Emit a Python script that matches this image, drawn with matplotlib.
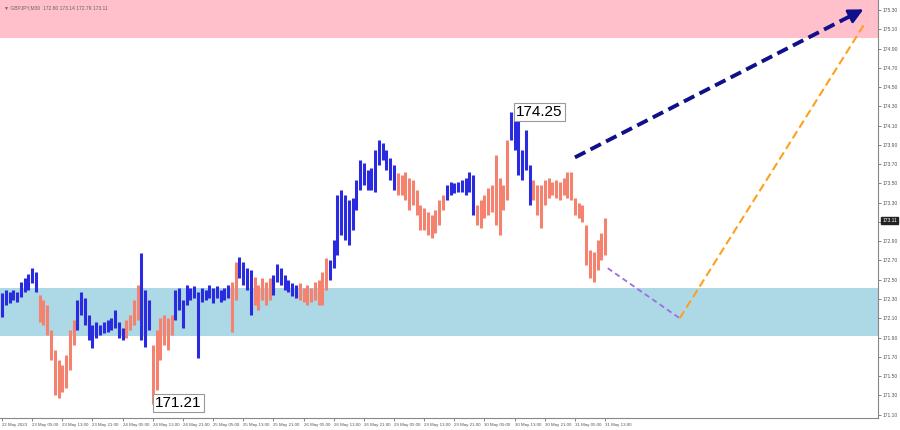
import matplotlib.pyplot as plt

plt.rcParams['font.family'] = ['Liberation Sans', 'DejaVu Sans']

# GBPJPY bars (one bar per hour of chart space), highs and lows
highs = [172.36, 172.39, 172.37, 172.39, 172.37, 172.48, 172.52, 172.56, 172.62, 172.58,
         172.34, 172.29, 172.24, 171.98, 171.77, 171.67, 171.61, 171.72, 171.98, 172.08,
         172.29, 172.37, 172.31, 172.13, 172.03, 172.06, 172.03, 172.06, 172.08, 172.10,
         172.19, 172.06, 172.00, 172.08, 172.13, 172.29, 172.45, 172.78, 172.39, 172.29,
         171.82, 171.98, 172.10, 172.13, 172.10, 172.13, 172.39, 172.41, 172.29, 172.45,
         172.41, 172.44, 172.37, 172.41, 172.39, 172.45, 172.41, 172.44, 172.39, 172.41,
         172.45, 172.48, 172.68, 172.74, 172.68, 172.62, 172.60, 172.53, 172.45, 172.52,
         172.48, 172.52, 172.55, 172.66, 172.62, 172.55, 172.50, 172.47, 172.45, 172.47,
         172.41, 172.45, 172.41, 172.48, 172.50, 172.58, 172.73, 172.70, 172.91, 173.38,
         173.43, 173.38, 173.33, 173.35, 173.54, 173.74, 173.71, 173.64, 173.66, 173.85,
         173.95, 173.92, 173.85, 173.76, 173.69, 173.61, 173.59, 173.62, 173.56, 173.54,
         173.43, 173.28, 173.25, 173.20, 173.17, 173.22, 173.33, 173.38, 173.48, 173.51,
         173.50, 173.51, 173.54, 173.56, 173.62, 173.59, 173.28, 173.33, 173.38, 173.45,
         173.48, 173.80, 173.56, 173.48, 173.95, 174.24, 174.25, 174.16, 173.85, 174.05,
         173.69, 173.54, 173.48, 173.48, 173.54, 173.56, 173.51, 173.54, 173.51, 173.56,
         173.62, 173.62, 173.35, 173.30, 173.28, 173.07, 172.81, 172.79, 172.91, 172.99,
         173.14]
lows = [172.11, 172.24, 172.26, 172.29, 172.27, 172.32, 172.37, 172.39, 172.47, 172.37,
        172.06, 172.03, 171.93, 171.67, 171.30, 171.27, 171.33, 171.38, 171.56, 171.82,
        171.98, 172.13, 172.03, 171.87, 171.79, 171.90, 171.93, 171.95, 171.96, 171.98,
        172.00, 171.90, 171.87, 171.90, 171.98, 172.03, 172.08, 171.87, 171.80, 171.98,
        171.21, 171.36, 171.67, 171.82, 171.77, 171.93, 172.08, 172.19, 172.00, 172.24,
        172.29, 172.31, 171.69, 172.27, 172.29, 172.31, 172.26, 172.31, 172.27, 172.29,
        172.31, 171.96, 172.29, 172.52, 172.45, 172.39, 172.13, 172.24, 172.19, 172.29,
        172.24, 172.29, 172.34, 172.48, 172.45, 172.39, 172.37, 172.33, 172.31, 172.29,
        172.27, 172.24, 172.27, 172.29, 172.24, 172.24, 172.39, 172.50, 172.62, 172.76,
        172.96, 172.91, 172.86, 173.02, 173.22, 173.43, 173.48, 173.43, 173.43, 173.41,
        173.69, 173.74, 173.64, 173.54, 173.43, 173.38, 173.38, 173.33, 173.22, 173.28,
        173.17, 173.02, 173.02, 172.96, 172.93, 172.99, 173.07, 173.22, 173.33, 173.38,
        173.40, 173.41, 173.41, 173.38, 173.41, 173.17, 173.07, 173.04, 173.14, 173.17,
        173.20, 173.07, 172.96, 173.22, 173.33, 173.95, 173.85, 173.59, 173.54, 173.64,
        173.28, 173.33, 173.17, 173.04, 173.28, 173.35, 173.38, 173.35, 173.33, 173.38,
        173.35, 173.33, 173.17, 173.14, 173.10, 172.65, 172.52, 172.48, 172.60, 172.70,
        172.76]
last_close = 173.11

# wave colouring: index where each wave starts
wave_starts = [0, 10, 20, 33, 37, 40, 46, 61, 63, 67, 72, 79, 87, 105, 118, 126, 135, 141]
up_color = '#2a2ae0'
down_color = '#f4826e'

# zones
resist_zone = (175.01, 175.6)
support_zone = (171.92, 172.41)

# forecast paths (bar index, price)
purple_path = ([160.7, 179.8], [172.62, 172.10])
orange_path = ([179.8, 229.2], [172.10, 175.18])
navy_path = ([152.0, 229.2], [173.77, 175.32])

xlabels = ['22 May 2023', '23 May 05:00', '23 May 13:00', '23 May 21:00', '24 May 05:00',
           '24 May 13:00', '24 May 21:00', '25 May 05:00', '25 May 13:00', '25 May 21:00',
           '26 May 05:00', '26 May 13:00', '26 May 21:00', '29 May 05:00', '29 May 13:00',
           '29 May 21:00', '30 May 05:00', '30 May 13:00', '30 May 21:00', '31 May 05:00',
           '31 May 13:00']
yticks = [175.30 - 0.2 * i for i in range(22)]

n = len(highs)
colors = []
for i in range(n):
    w = sum(1 for s in wave_starts if s <= i) - 1
    colors.append(up_color if w % 2 == 0 else down_color)

fig = plt.figure(figsize=(9, 4.3), dpi=100)
ax = fig.add_axes([0, 12 / 430, 878 / 900, 418 / 430])

ax.axhspan(*resist_zone, color='#ffc0cb', lw=0)
ax.axhspan(*support_zone, color='#add8e6', lw=0)

ax.vlines(range(n), lows, highs, colors=colors, lw=2.2)

ax.plot(*purple_path, ls=(0, (3, 2)), color='#9b6fe0', lw=1.3)
ax.plot(*orange_path, ls=(0, (4, 2)), color='#ffa01e', lw=1.5)
ax.plot(navy_path[0][:1] + [navy_path[0][1] - 3],
        navy_path[1][:1] + [navy_path[1][1] - 0.06],
        ls=(0, (3, 1.5)), color='#10108a', lw=2.8)
ax.annotate('', xy=(navy_path[0][1], navy_path[1][1]),
            xytext=(navy_path[0][1] - 4, navy_path[1][1] - 0.08),
            arrowprops=dict(arrowstyle='-|>', color='#10108a', lw=2, mutation_scale=22))

hi = highs.index(max(highs))
lo = lows.index(min(lows))
box = dict(boxstyle='square,pad=0.15', fc='white', ec='#999999', lw=0.8)
ax.text(hi + 0.4, max(highs) - 0.01, '%.2f' % max(highs), fontsize=11,
        ha='left', va='center', bbox=box)
ax.text(lo + 0.6, min(lows) + 0.01, '%.2f' % min(lows), fontsize=11,
        ha='left', va='center', bbox=box, clip_on=False)

ax.yaxis.tick_right()
ax.set_yticks(yticks)
# the tick next to the last price sits under the price box, as in the terminal
ax.set_yticklabels(['' if abs(v - last_close) < 0.08 else '%.2f' % v for v in yticks])
ax.set_xticks(range(0, 8 * len(xlabels), 8))
ax.set_xticklabels(xlabels, ha='left')
ax.set_xlim(-0.53, 232.4)
ax.set_ylim(171.065, 175.404)
ax.tick_params(axis='both', labelsize=3.6, colors='#555555', length=2, width=0.5, pad=1.5)
ax.tick_params(axis='x', labelsize=3.2)
for s in ['top', 'left']:
    ax.spines[s].set_visible(False)
for s in ['right', 'bottom']:
    ax.spines[s].set_color('#888888')
    ax.spines[s].set_linewidth(0.8)

ax.annotate('%.2f' % last_close, xy=(1.0, last_close), xycoords=('axes fraction', 'data'),
            xytext=(3, 0), textcoords='offset points', fontsize=3.6, color='white',
            va='center', ha='left',
            bbox=dict(boxstyle='square,pad=0.2', fc='#222222', ec='#222222'))

fig.text(0.004, 0.982, '\u25bc GBPJPY,M30  172.80 173.14 172.79 173.11', fontsize=3.6,
         color='#666666', va='center')

fig.savefig('out.png', dpi=100)
